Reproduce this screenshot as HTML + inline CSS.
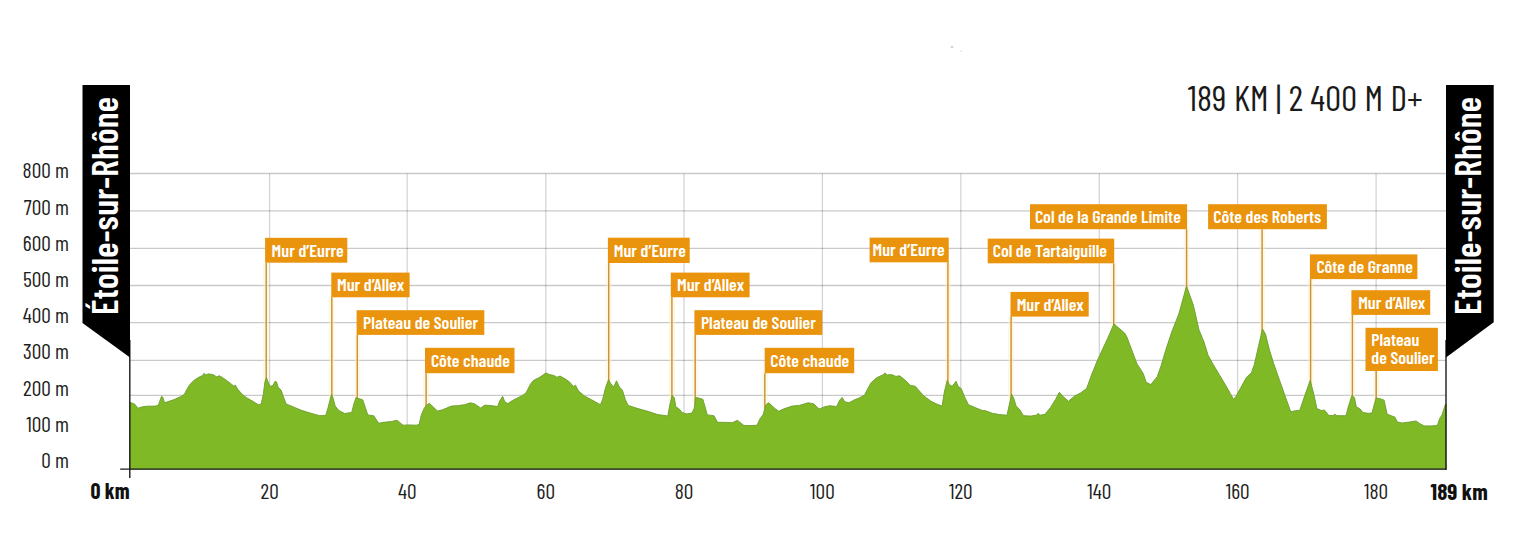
<!DOCTYPE html>
<html><head><meta charset="utf-8"><title>Profil</title>
<style>
html,body{margin:0;padding:0;background:#fff;}
body{width:1536px;height:546px;overflow:hidden;}
svg{display:block;}
text{font-family:"Barlow Condensed","Liberation Sans Narrow","Liberation Sans",sans-serif;}
.yl{font-size:21.5px;fill:#1e1e1e;font-weight:400;}
.xl{font-size:21.5px;fill:#1e1e1e;font-weight:400;}
.xb{font-size:22px;fill:#111;font-weight:700;}
.lb{font-size:18px;fill:#fff;font-weight:600;}
.bn{font-size:36px;fill:#fff;font-weight:600;letter-spacing:0.2px;}
.hd{font-size:35.5px;fill:#1a1a1a;font-weight:400;letter-spacing:0.18px;}
</style></head><body>
<svg width="1536" height="546" viewBox="0 0 1536 546">
<rect width="1536" height="546" fill="#fff"/>

<line x1="130" y1="173.5" x2="1446" y2="173.5" stroke="#000" stroke-opacity="0.21" stroke-width="1.3"/>
<line x1="130" y1="210.8" x2="1446" y2="210.8" stroke="#000" stroke-opacity="0.21" stroke-width="1.3"/>
<line x1="130" y1="248.3" x2="1446" y2="248.3" stroke="#000" stroke-opacity="0.21" stroke-width="1.3"/>
<line x1="130" y1="285.5" x2="1446" y2="285.5" stroke="#000" stroke-opacity="0.21" stroke-width="1.3"/>
<line x1="130" y1="322.7" x2="1446" y2="322.7" stroke="#000" stroke-opacity="0.21" stroke-width="1.3"/>
<line x1="130" y1="360.4" x2="1446" y2="360.4" stroke="#000" stroke-opacity="0.21" stroke-width="1.3"/>
<line x1="130" y1="395.4" x2="1446" y2="395.4" stroke="#000" stroke-opacity="0.21" stroke-width="1.3"/>
<line x1="130" y1="432.2" x2="1446" y2="432.2" stroke="#000" stroke-opacity="0.21" stroke-width="1.3"/>
<line x1="269.6" y1="173.4" x2="269.6" y2="469" stroke="#000" stroke-opacity="0.17" stroke-width="1.3"/>
<line x1="407.2" y1="173.4" x2="407.2" y2="469" stroke="#000" stroke-opacity="0.17" stroke-width="1.3"/>
<line x1="545.8" y1="173.4" x2="545.8" y2="469" stroke="#000" stroke-opacity="0.17" stroke-width="1.3"/>
<line x1="684.0" y1="173.4" x2="684.0" y2="469" stroke="#000" stroke-opacity="0.17" stroke-width="1.3"/>
<line x1="822.4" y1="173.4" x2="822.4" y2="469" stroke="#000" stroke-opacity="0.17" stroke-width="1.3"/>
<line x1="960.8" y1="173.4" x2="960.8" y2="469" stroke="#000" stroke-opacity="0.17" stroke-width="1.3"/>
<line x1="1099.3" y1="173.4" x2="1099.3" y2="469" stroke="#000" stroke-opacity="0.17" stroke-width="1.3"/>
<line x1="1237.6" y1="173.4" x2="1237.6" y2="469" stroke="#000" stroke-opacity="0.17" stroke-width="1.3"/>
<line x1="1376.1" y1="173.4" x2="1376.1" y2="469" stroke="#000" stroke-opacity="0.17" stroke-width="1.3"/>
<line x1="266.2" y1="262.7" x2="266.2" y2="383.6" stroke="#fff0c0" stroke-width="6" opacity="0.45"/>
<line x1="266.2" y1="262.7" x2="266.2" y2="383.6" stroke="#c8933c" stroke-width="1.45"/>
<line x1="331.8" y1="297.3" x2="331.8" y2="400.4" stroke="#fff0c0" stroke-width="6" opacity="0.45"/>
<line x1="331.8" y1="297.3" x2="331.8" y2="400.4" stroke="#c8933c" stroke-width="1.45"/>
<line x1="357.3" y1="334.9" x2="357.3" y2="403.4" stroke="#fff0c0" stroke-width="6" opacity="0.45"/>
<line x1="357.3" y1="334.9" x2="357.3" y2="403.4" stroke="#c8933c" stroke-width="1.45"/>
<line x1="426.1" y1="373.2" x2="426.1" y2="409.2" stroke="#fff0c0" stroke-width="6" opacity="0.45"/>
<line x1="426.1" y1="373.2" x2="426.1" y2="409.2" stroke="#c8933c" stroke-width="1.45"/>
<line x1="608.7" y1="263" x2="608.7" y2="385.8" stroke="#fff0c0" stroke-width="6" opacity="0.45"/>
<line x1="608.7" y1="263" x2="608.7" y2="385.8" stroke="#c8933c" stroke-width="1.45"/>
<line x1="671.9" y1="297.3" x2="671.9" y2="401.2" stroke="#fff0c0" stroke-width="6" opacity="0.45"/>
<line x1="671.9" y1="297.3" x2="671.9" y2="401.2" stroke="#c8933c" stroke-width="1.45"/>
<line x1="695.2" y1="334.9" x2="695.2" y2="403.4" stroke="#fff0c0" stroke-width="6" opacity="0.45"/>
<line x1="695.2" y1="334.9" x2="695.2" y2="403.4" stroke="#c8933c" stroke-width="1.45"/>
<line x1="764.8" y1="373.2" x2="764.8" y2="408.8" stroke="#fff0c0" stroke-width="6" opacity="0.45"/>
<line x1="764.8" y1="373.2" x2="764.8" y2="408.8" stroke="#c8933c" stroke-width="1.45"/>
<line x1="947.9" y1="262.3" x2="947.9" y2="386.5" stroke="#fff0c0" stroke-width="6" opacity="0.45"/>
<line x1="947.9" y1="262.3" x2="947.9" y2="386.5" stroke="#c8933c" stroke-width="1.45"/>
<line x1="1113.7" y1="263.3" x2="1113.7" y2="329.9" stroke="#fff0c0" stroke-width="6" opacity="0.45"/>
<line x1="1113.7" y1="263.3" x2="1113.7" y2="329.9" stroke="#c8933c" stroke-width="1.45"/>
<line x1="1011.1" y1="316.6" x2="1011.1" y2="400.1" stroke="#fff0c0" stroke-width="6" opacity="0.45"/>
<line x1="1011.1" y1="316.6" x2="1011.1" y2="400.1" stroke="#c8933c" stroke-width="1.45"/>
<line x1="1186.6" y1="229.2" x2="1186.6" y2="292.1" stroke="#fff0c0" stroke-width="6" opacity="0.45"/>
<line x1="1186.6" y1="229.2" x2="1186.6" y2="292.1" stroke="#c8933c" stroke-width="1.45"/>
<line x1="1262.1" y1="229.2" x2="1262.1" y2="335.1" stroke="#fff0c0" stroke-width="6" opacity="0.45"/>
<line x1="1262.1" y1="229.2" x2="1262.1" y2="335.1" stroke="#c8933c" stroke-width="1.45"/>
<line x1="1310.6" y1="279.1" x2="1310.6" y2="386.4" stroke="#fff0c0" stroke-width="6" opacity="0.45"/>
<line x1="1310.6" y1="279.1" x2="1310.6" y2="386.4" stroke="#c8933c" stroke-width="1.45"/>
<line x1="1352.4" y1="314.9" x2="1352.4" y2="401.4" stroke="#fff0c0" stroke-width="6" opacity="0.45"/>
<line x1="1352.4" y1="314.9" x2="1352.4" y2="401.4" stroke="#c8933c" stroke-width="1.45"/>
<line x1="1376.2" y1="371" x2="1376.2" y2="404.1" stroke="#fff0c0" stroke-width="6" opacity="0.45"/>
<line x1="1376.2" y1="371" x2="1376.2" y2="404.1" stroke="#c8933c" stroke-width="1.45"/>
<path d="M130,469 L130,402.5 L133.8,403.6 L136,405.6 L137.8,408.3 L141.5,407 L147,406.2 L155.8,406.1 L158.5,405 L160.5,399 L161.6,396.3 L162.6,397 L164.6,402.8 L169,401.3 L174.8,399.3 L180.7,396.6 L184.3,394.4 L186.5,390 L189.5,384.9 L193.8,380.5 L198.2,377.6 L202.6,375.4 L204.1,373.2 L205.6,374.9 L208.5,373.9 L212.9,374.6 L216.5,376.8 L219.5,375.8 L224.6,379 L230.5,383.4 L234.1,386.4 L235.2,384.9 L237.8,389.3 L242.2,394.4 L246.6,397.8 L252.4,401 L258.3,404.7 L261.2,404 L263.4,393.7 L264.9,382 L266.4,377.6 L267.8,381.2 L270,386.4 L272.9,385.6 L275.1,381.2 L276.6,382 L278,387.1 L281,390 L283.9,398.1 L286.1,403.9 L293.4,406.9 L300.8,410.1 L308.1,412.4 L315.4,414.5 L319.8,415.7 L325.7,415.4 L327.9,408.3 L330.1,399.5 L331.5,394.4 L333,398.1 L335.2,406.1 L338.9,410.5 L344.7,413.5 L351.7,412.4 L353.9,403.9 L356.1,397.4 L358.3,398.4 L362.7,399.8 L365.6,408.3 L367.8,414.9 L373.7,415.7 L376.6,420.1 L378.8,423.3 L383.9,422.3 L391.3,421.5 L397.1,420.3 L403,425.2 L408.8,424.9 L416.2,425.2 L419.1,424.5 L421.3,414.9 L424.2,408.3 L426.4,405.4 L429.4,403.2 L432.3,406.1 L437.4,411 L442.5,409.8 L451.3,406.1 L457.2,405.7 L464.5,404.7 L470.4,402.8 L474.8,403.9 L480.6,408 L485,405.1 L492.3,405.7 L497.5,406.6 L499.7,401 L502.6,396.3 L504.8,401.7 L507.7,403.6 L512.8,400.3 L521.6,395.9 L526,393 L530.4,384.2 L533.4,380.5 L539.2,377.6 L543.6,374.6 L545.8,372.9 L549.5,374.6 L553.9,375.4 L556.8,377.2 L560.1,376.1 L565.3,379 L569.6,382 L573.3,386.4 L575.5,385.2 L578.4,390.8 L584.3,395.9 L591.6,399.8 L600.4,404.7 L602.6,399.5 L605.5,387.8 L608.5,379.8 L610.7,383.4 L613.6,387.1 L616.5,380.8 L619.4,387.1 L622.4,390 L625.3,399.5 L628.2,405.4 L637,408.3 L648.7,411.6 L657.5,414.5 L667.8,416 L670,403.9 L672.2,395.2 L674.4,398.1 L675.8,406.9 L678.8,408.6 L682.4,412.7 L686.8,413.9 L692,413 L694.2,408.3 L695.6,397.4 L697.8,397.8 L702.9,399.3 L705.1,406.9 L707.3,414.9 L713.9,415.7 L717.6,422.3 L723.4,422.3 L732.2,422.7 L737.4,420.3 L744,425.6 L751.3,425.6 L757.1,425.2 L760.1,418.6 L763,414.9 L765.9,404.7 L768.6,402.8 L771.8,405.4 L774.5,408.3 L778.8,411.3 L783.2,409.1 L792,406.1 L799.3,405.4 L808.1,402.8 L813.9,403.9 L816.9,406.9 L819.1,409.1 L824.2,406.9 L830.1,405.7 L836.6,406.6 L839.6,400.3 L842.1,397.4 L844.7,401.7 L849.1,402.8 L853.5,400.3 L859.4,397.8 L864.5,395.2 L867.4,389.3 L871.1,382.7 L876.9,377.6 L882.8,374.9 L885,372.9 L887.2,374.9 L891.6,374.6 L896,376.4 L899.6,375.8 L904.8,379.8 L910.6,385.6 L915,386.1 L917.9,389.3 L923.8,395.9 L931.1,401.3 L937,404.2 L942.1,406.1 L944.3,392.2 L947.2,380.5 L949.9,385.6 L952.4,386.1 L956,381.2 L958.2,386.4 L961.2,388.6 L964.8,397.4 L968.5,404.7 L975.1,407.6 L982.4,410.5 L985,410.6 L992.3,413.3 L999.7,414.6 L1007,415.2 L1008.8,406.9 L1011.6,394.1 L1013.9,398.7 L1016.1,406 L1019.8,409.7 L1023.5,415.7 L1030.8,416.1 L1036.3,415.2 L1038.1,413.3 L1040,415.2 L1045,414.3 L1050.5,407.5 L1055.5,399.5 L1059.3,392.3 L1064,397.5 L1068.5,401.2 L1074.7,395.9 L1080.2,393.2 L1086.6,388.6 L1091.2,375.8 L1096.7,362.1 L1102.2,350.1 L1107.7,338.2 L1114,323.9 L1124.6,333 L1127,337.3 L1131.5,349.2 L1137,363.9 L1140.7,369.4 L1143.4,374 L1146.2,382.2 L1150.8,384.6 L1157.2,376.7 L1160.8,366.6 L1166.3,348.3 L1171.8,331.8 L1178.8,314 L1186.5,286.1 L1193.4,305.2 L1199,330 L1204,342 L1208.1,355.3 L1213.1,364.3 L1219.2,374.4 L1225.2,384.5 L1230.3,393.5 L1233.3,399 L1235.3,397.6 L1240.3,388.5 L1246.4,377.4 L1251.4,372.8 L1254.4,364.3 L1258.5,346.2 L1262.5,329.1 L1265.5,334.1 L1269.5,350.2 L1273.6,363.3 L1279.6,380.4 L1285.7,397.6 L1290.7,411.7 L1295.7,410.7 L1299.8,410.2 L1304.8,395.5 L1310.2,380.4 L1313.9,394.5 L1316.9,408.6 L1321.9,410.7 L1324.2,409.9 L1326,411.7 L1328.5,415.3 L1333.3,415.7 L1334.5,414.1 L1336.9,415.7 L1346,415.7 L1348.4,406.3 L1352,395.4 L1354.5,397.8 L1356.3,406.9 L1359.9,408.7 L1362.9,412.6 L1368.4,413.3 L1372,412.9 L1374.4,403.9 L1376.2,398.1 L1380.5,398.8 L1384.1,400.2 L1387.1,414.1 L1390.1,415.3 L1395,417.2 L1397.4,422 L1402.2,423 L1409.5,422 L1416.1,421 L1419.2,423.2 L1424,425.9 L1431.2,425.9 L1437.3,425.6 L1439.7,418.4 L1442.1,414.7 L1445.1,405.1 L1446,403.9 L1446,469 Z" fill="#7fb926" stroke="#6c9c2e" stroke-width="0.9" stroke-linejoin="round"/>
<line x1="129.8" y1="340" x2="129.8" y2="478" stroke="#1a1a1a" stroke-width="1.4"/>
<line x1="1446" y1="340" x2="1446" y2="469.8" stroke="#1a1a1a" stroke-width="1.4"/>
<line x1="120.2" y1="469.1" x2="1446.5" y2="469.1" stroke="#1a1a1a" stroke-width="1.4"/>
<rect x="265.1" y="237.8" width="82.2" height="24.9" fill="#ea930c"/>
<text textLength="72.19" lengthAdjust="spacingAndGlyphs" class="lb" x="271.6" y="256.6">Mur d’Eurre</text>
<rect x="331.3" y="272.6" width="78.3" height="24.7" fill="#ea930c"/>
<text textLength="67.17" lengthAdjust="spacingAndGlyphs" class="lb" x="337.0" y="291.4">Mur d’Allex</text>
<rect x="356.6" y="310.2" width="127.7" height="24.7" fill="#ea930c"/>
<text textLength="114.94" lengthAdjust="spacingAndGlyphs" class="lb" x="363.1" y="329.0">Plateau de Soulier</text>
<rect x="425" y="347.8" width="89.5" height="25.4" fill="#ea930c"/>
<text textLength="78.95" lengthAdjust="spacingAndGlyphs" class="lb" x="430.9" y="366.6">Côte chaude</text>
<rect x="607.9" y="237.7" width="81.8" height="25.3" fill="#ea930c"/>
<text textLength="72.19" lengthAdjust="spacingAndGlyphs" class="lb" x="613.8" y="256.5">Mur d’Eurre</text>
<rect x="670.8" y="272.6" width="78.8" height="24.7" fill="#ea930c"/>
<text textLength="67.17" lengthAdjust="spacingAndGlyphs" class="lb" x="677.0" y="291.4">Mur d’Allex</text>
<rect x="694.4" y="310.2" width="127.9" height="24.7" fill="#ea930c"/>
<text textLength="114.94" lengthAdjust="spacingAndGlyphs" class="lb" x="700.9" y="329.0">Plateau de Soulier</text>
<rect x="764.7" y="347.8" width="89.5" height="25.4" fill="#ea930c"/>
<text textLength="78.95" lengthAdjust="spacingAndGlyphs" class="lb" x="770.3" y="366.6">Côte chaude</text>
<rect x="869.6" y="237.6" width="79.1" height="24.7" fill="#ea930c"/>
<text textLength="72.19" lengthAdjust="spacingAndGlyphs" class="lb" x="872.5" y="256.4">Mur d’Eurre</text>
<rect x="987.7" y="238.6" width="126.5" height="24.7" fill="#ea930c"/>
<text textLength="114.16" lengthAdjust="spacingAndGlyphs" class="lb" x="992.8" y="257.4">Col de Tartaiguille</text>
<rect x="1010.5" y="291.9" width="78.2" height="24.7" fill="#ea930c"/>
<text textLength="67.17" lengthAdjust="spacingAndGlyphs" class="lb" x="1016.7" y="310.7">Mur d’Allex</text>
<rect x="1030" y="204.2" width="157.1" height="25.0" fill="#ea930c"/>
<text textLength="145.84" lengthAdjust="spacingAndGlyphs" class="lb" x="1035.0" y="223.0">Col de la Grande Limite</text>
<rect x="1208.1" y="204.2" width="118.8" height="25.0" fill="#ea930c"/>
<text textLength="107.98" lengthAdjust="spacingAndGlyphs" class="lb" x="1213.3" y="223.0">Côte des Roberts</text>
<rect x="1309.9" y="254.4" width="107.5" height="24.7" fill="#ea930c"/>
<text textLength="96.52" lengthAdjust="spacingAndGlyphs" class="lb" x="1316.4" y="273.2">Côte de Granne</text>
<rect x="1351.4" y="290.2" width="78.8" height="24.7" fill="#ea930c"/>
<text textLength="67.17" lengthAdjust="spacingAndGlyphs" class="lb" x="1358.2" y="309.0">Mur d’Allex</text>
<rect x="1365.5" y="327.8" width="72.4" height="43.2" fill="#ea930c"/>
<text textLength="47.98" lengthAdjust="spacingAndGlyphs" class="lb" x="1371.3" y="346.3">Plateau</text>
<text textLength="63.38" lengthAdjust="spacingAndGlyphs" class="lb" x="1371.3" y="363.6">de Soulier</text>
<text textLength="46.41" lengthAdjust="spacingAndGlyphs" class="yl" x="69.0" y="178.3" text-anchor="end">800 m</text>
<text textLength="45.20" lengthAdjust="spacingAndGlyphs" class="yl" x="69.0" y="214.5" text-anchor="end">700 m</text>
<text textLength="46.14" lengthAdjust="spacingAndGlyphs" class="yl" x="69.0" y="250.7" text-anchor="end">600 m</text>
<text textLength="46.12" lengthAdjust="spacingAndGlyphs" class="yl" x="69.0" y="286.9" text-anchor="end">500 m</text>
<text textLength="46.25" lengthAdjust="spacingAndGlyphs" class="yl" x="69.0" y="323.1" text-anchor="end">400 m</text>
<text textLength="46.11" lengthAdjust="spacingAndGlyphs" class="yl" x="69.0" y="359.3" text-anchor="end">300 m</text>
<text textLength="45.97" lengthAdjust="spacingAndGlyphs" class="yl" x="69.0" y="395.5" text-anchor="end">200 m</text>
<text textLength="42.84" lengthAdjust="spacingAndGlyphs" class="yl" x="69.0" y="431.7" text-anchor="end">100 m</text>
<text textLength="27.78" lengthAdjust="spacingAndGlyphs" class="yl" x="69.0" y="467.9" text-anchor="end">0 m</text>
<text textLength="39.11" lengthAdjust="spacingAndGlyphs" class="xb" x="129.6" y="498.6" text-anchor="end">0 km</text>
<text textLength="18.20" lengthAdjust="spacingAndGlyphs" class="xl" x="269.6" y="498.8" text-anchor="middle">20</text>
<text textLength="18.47" lengthAdjust="spacingAndGlyphs" class="xl" x="407.2" y="498.8" text-anchor="middle">40</text>
<text textLength="18.38" lengthAdjust="spacingAndGlyphs" class="xl" x="545.8" y="498.8" text-anchor="middle">60</text>
<text textLength="18.62" lengthAdjust="spacingAndGlyphs" class="xl" x="684.0" y="498.8" text-anchor="middle">80</text>
<text textLength="24.61" lengthAdjust="spacingAndGlyphs" class="xl" x="822.4" y="498.8" text-anchor="middle">100</text>
<text textLength="23.72" lengthAdjust="spacingAndGlyphs" class="xl" x="960.8" y="498.8" text-anchor="middle">120</text>
<text textLength="23.98" lengthAdjust="spacingAndGlyphs" class="xl" x="1099.3" y="498.8" text-anchor="middle">140</text>
<text textLength="23.88" lengthAdjust="spacingAndGlyphs" class="xl" x="1237.6" y="498.8" text-anchor="middle">160</text>
<text textLength="24.12" lengthAdjust="spacingAndGlyphs" class="xl" x="1376.1" y="498.8" text-anchor="middle">180</text>
<text textLength="57.11" lengthAdjust="spacingAndGlyphs" class="xb" x="1430.6" y="499.6" style="font-size:23px">189 km</text>
<path d="M82.5,85 L130,85 L130,357.4 L82.5,323 Z" fill="#000"/>
<path d="M1446,85 L1493.7,85 L1493.7,322.2 L1446,357.4 Z" fill="#000"/>
<text textLength="218.45" lengthAdjust="spacingAndGlyphs" class="bn" transform="translate(117.5,315.1) rotate(-90)">Étoile-sur-Rhône</text>
<text textLength="218.45" lengthAdjust="spacingAndGlyphs" class="bn" transform="translate(1481,315.1) rotate(-90)">Etoile-sur-Rhône</text>
<ellipse cx="952" cy="47" rx="1.6" ry="1.2" fill="#d8d8d8"/><ellipse cx="961" cy="51.3" rx="1.2" ry="0.8" fill="#e2e2e2"/>
<text textLength="235.28" lengthAdjust="spacingAndGlyphs" class="hd" x="1187.7" y="110.6">189 KM | 2 400 M D+</text>
</svg>
</body></html>
